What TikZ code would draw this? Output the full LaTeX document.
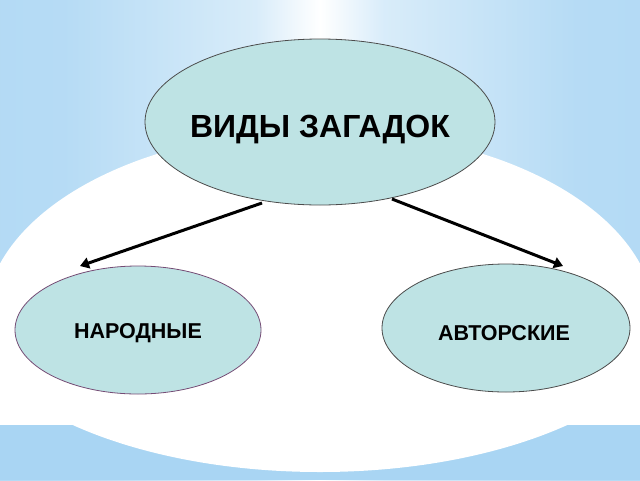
\documentclass[tikz,border=0pt]{standalone}
\usepackage{fontspec}
\setmainfont{Liberation Sans}
\usetikzlibrary{arrows.meta,shapes.geometric}
\definecolor{bgblue}{HTML}{A9D5F3}
\definecolor{ovfill}{HTML}{BEE3E4}
\pgfdeclarehorizontalshading{bgshade}{100bp}{color(0bp)=(bgblue); color(30bp)=(bgblue!85!white); color(45bp)=(bgblue!45!white); color(50bp)=(white); color(55bp)=(bgblue!45!white); color(70bp)=(bgblue!85!white); color(100bp)=(bgblue)}
\tikzset{ov/.style={ellipse,draw=black!70,line width=0.8pt,fill=ovfill,inner sep=0pt},
 arr/.style={line width=3pt,-{Triangle[length=9pt,width=11pt]}}}
\begin{document}
\begin{tikzpicture}[x=1pt,y=-1pt]
\useasboundingbox (0,0) rectangle (640,480);
\shade[shading=bgshade] (0,0) rectangle (640,480);
\fill[bgblue] (0,425) rectangle (640,480);
\fill[white] (0,265) rectangle (640,425);
\begin{scope}
\clip (0,300) rectangle (640,480);
\fill[white] (320,300) ellipse [x radius=360,y radius=172];
\end{scope}
\begin{scope}
\clip (0,0) rectangle (640,320);
\fill[white] (320,320) ellipse [x radius=335,y radius=190];
\end{scope}
\node[ov,minimum width=350,minimum height=166] (top) at (320,122) {};
\node[font=\bfseries\fontsize{32}{38}\selectfont] (topt) at (320,130) {ВИДЫ ЗАГАДОК};
\node[ov,draw=black!55!violet!70,minimum width=246,minimum height=128] (l) at (138,330) {};
\node[font=\bfseries\fontsize{21.5}{26}\selectfont] (lt) at (138,333) {НАРОДНЫЕ};
\node[ov,minimum width=248,minimum height=128] (r) at (506,328) {};
\node[font=\bfseries\fontsize{21.5}{26}\selectfont] (rt) at (504,333) {АВТОРСКИЕ};
\coordinate (la) at (80,266);
\coordinate (ra) at (563,266);
\draw[arr] (262,203) -- (la);
\draw[arr] (392,199) -- (ra);
\end{tikzpicture}
\end{document}
